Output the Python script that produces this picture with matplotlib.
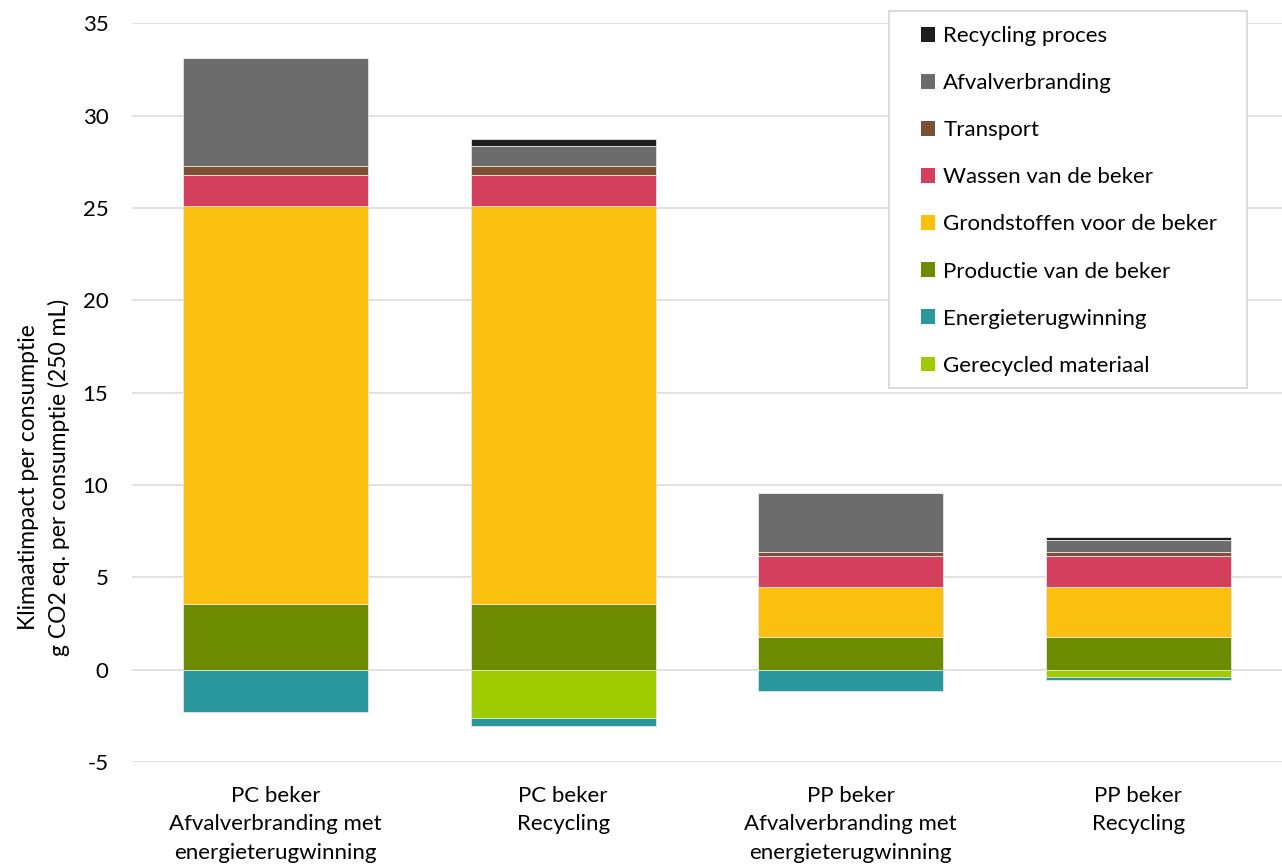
import matplotlib.pyplot as plt
from matplotlib.patches import Rectangle
import numpy as np

plt.rcParams['font.family'] = ['Lato', 'DejaVu Sans']
plt.rcParams['axes.unicode_minus'] = False

categories = ['PC beker\nAfvalverbranding met\nenergieterugwinning',
              'PC beker\nRecycling',
              'PP beker\nAfvalverbranding met\nenergieterugwinning',
              'PP beker\nRecycling']

# positive contributions (stacked bottom to top)
productie = [3.57, 3.57, 1.75, 1.75]
grondstoffen = [21.55, 21.55, 2.74, 2.74]
wassen = [1.64, 1.64, 1.65, 1.65]
transport = [0.50, 0.50, 0.25, 0.25]
afval = [5.87, 1.12, 3.18, 0.64]
recycling = [0.0, 0.36, 0.0, 0.14]
# negative contributions (stacked from zero downward)
gerecycled = [0.0, -2.62, 0.0, -0.38]
energie = [-2.29, -0.43, -1.18, -0.20]

pos_series = [('Productie van de beker', productie, '#6e8b00'),
              ('Grondstoffen voor de beker', grondstoffen, '#f9c00f'),
              ('Wassen van de beker', wassen, '#d53f5e'),
              ('Transport', transport, '#7b5033'),
              ('Afvalverbranding', afval, '#6c6c6c'),
              ('Recycling proces', recycling, '#1f1f1f')]
neg_series = [('Gerecycled materiaal', gerecycled, '#a0cb00'),
              ('Energieterugwinning', energie, '#2a979c')]

legend_order = ['Recycling proces', 'Afvalverbranding', 'Transport',
                'Wassen van de beker', 'Grondstoffen voor de beker',
                'Productie van de beker', 'Energieterugwinning',
                'Gerecycled materiaal']

W, H = 1282, 867
fig = plt.figure(figsize=(W / 100, H / 100), dpi=100)
ax = fig.add_axes([132 / W, 1 - 762 / H, 1150 / W, (762 - 23.3) / H])

x = np.arange(len(categories))
w = 0.645
handles = {}

bottom = np.zeros(len(categories))
for name, vals, col in pos_series:
    vals = np.array(vals)
    b = ax.bar(x, vals, w, bottom=bottom, color=col, edgecolor='#e6e6e6',
               linewidth=0.6, zorder=3, label=name)
    handles[name] = b
    bottom += vals

bottom = np.zeros(len(categories))
for name, vals, col in neg_series:
    vals = np.array(vals)
    b = ax.bar(x, vals, w, bottom=bottom, color=col, edgecolor='#e6e6e6',
               linewidth=0.6, zorder=3, label=name)
    handles[name] = b
    bottom += vals

ax.set_ylim(-5, 35)
ax.set_xlim(-0.5, 3.5)
ax.set_yticks(np.arange(-5, 36, 5))
ax.yaxis.grid(True, color='#d9d9d9', linewidth=1.1, zorder=0)
ax.set_axisbelow(True)
for s in ax.spines.values():
    s.set_visible(False)
ax.tick_params(axis='both', length=0, labelsize=16, colors='black')
ax.tick_params(axis='y', pad=17)
ax.tick_params(axis='x', pad=17)
ax.set_xticks(x)
ax.set_xticklabels(categories, linespacing=1.54)

fig.text(44 / W, 1 - 477 / H,
         'Klimaatimpact per consumptie\ng CO2 eq. per consumptie (250 mL)',
         rotation=90, ha='center', va='center', fontsize=16.5,
         linespacing=1.45)

# legend box drawn by hand, entries placed inside
fig.patches.append(Rectangle((889 / W, 1 - 388 / H), (1247 - 889) / W,
                             (388 - 11) / H, transform=fig.transFigure,
                             facecolor='white', edgecolor='#d9d9d9',
                             linewidth=1.3, zorder=5))
leg = fig.legend([handles[n] for n in legend_order], legend_order,
                 loc='upper left', bbox_to_anchor=(921 / W, 1 - 26 / H),
                 bbox_transform=fig.transFigure, borderaxespad=0,
                 borderpad=0, fontsize=16, frameon=False,
                 handlelength=0.65, handleheight=0.65, handletextpad=0.35,
                 labelspacing=1.22)
leg.set_zorder(6)
for h in leg.legend_handles:
    h.set_edgecolor('none')

fig.savefig('out.png', dpi=100)
